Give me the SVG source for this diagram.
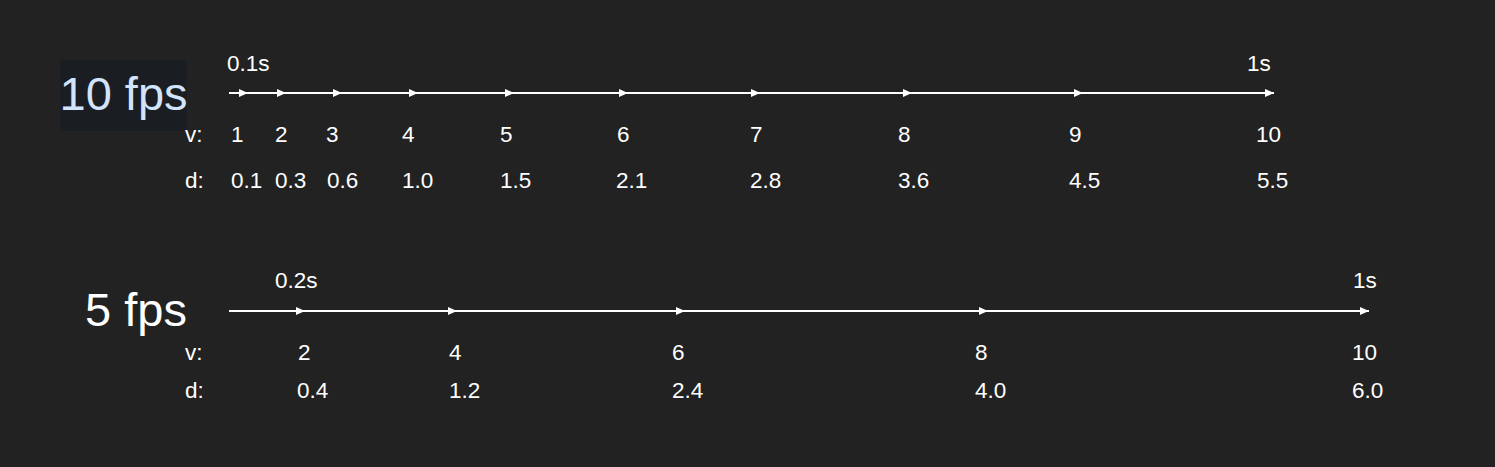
<svg xmlns="http://www.w3.org/2000/svg" width="1495" height="467" viewBox="0 0 1495 467">
<style>
text{font-family:"Liberation Sans",Arial,sans-serif;fill:#ffffff}
.t{font-size:22.5px}
.big{font-size:47px}
.hl{fill:#d2e4fb}
.ln{stroke:#ffffff;stroke-width:2;fill:none}
</style>
<defs>
<marker id="ah" viewBox="0 0 9 8" refX="9" refY="4" markerWidth="9" markerHeight="8" markerUnits="userSpaceOnUse" orient="auto">
<path d="M0,0 L9,4 L0,8 Z" fill="#ffffff"/>
</marker>
</defs>
<rect width="1495" height="467" fill="#222222"/>

<g id="title-10fps">
<rect x="60" y="60" width="127" height="71" fill="#1a1d21"/>
<text class="big hl" x="59.5" y="110">10 fps</text>
</g>
<g id="title-5fps">
<text class="big" x="85" y="326">5 fps</text>
</g>

<g id="connectors">
<line class="ln" x1="229" y1="93" x2="248" y2="93" marker-end="url(#ah)"/>
<line class="ln" x1="248" y1="93" x2="286" y2="93" marker-end="url(#ah)"/>
<line class="ln" x1="286" y1="93" x2="342" y2="93" marker-end="url(#ah)"/>
<line class="ln" x1="342" y1="93" x2="418" y2="93" marker-end="url(#ah)"/>
<line class="ln" x1="418" y1="93" x2="514" y2="93" marker-end="url(#ah)"/>
<line class="ln" x1="514" y1="93" x2="628" y2="93" marker-end="url(#ah)"/>
<line class="ln" x1="628" y1="93" x2="760" y2="93" marker-end="url(#ah)"/>
<line class="ln" x1="760" y1="93" x2="912" y2="93" marker-end="url(#ah)"/>
<line class="ln" x1="912" y1="93" x2="1083" y2="93" marker-end="url(#ah)"/>
<line class="ln" x1="1083" y1="93" x2="1274" y2="93" marker-end="url(#ah)"/>
<line class="ln" x1="229" y1="311" x2="305" y2="311" marker-end="url(#ah)"/>
<line class="ln" x1="305" y1="311" x2="457" y2="311" marker-end="url(#ah)"/>
<line class="ln" x1="457" y1="311" x2="685" y2="311" marker-end="url(#ah)"/>
<line class="ln" x1="685" y1="311" x2="988" y2="311" marker-end="url(#ah)"/>
<line class="ln" x1="988" y1="311" x2="1369" y2="311" marker-end="url(#ah)"/>
</g>

<g id="row-10fps-labels">
<text class="t" x="227" y="71">0.1s</text>
<text class="t" x="1247" y="71">1s</text>
<text class="t" x="185" y="142">v:</text>
<text class="t" x="185" y="188">d:</text>
<text class="t" x="231" y="142">1</text>
<text class="t" x="275" y="142">2</text>
<text class="t" x="326" y="142">3</text>
<text class="t" x="402" y="142">4</text>
<text class="t" x="500" y="142">5</text>
<text class="t" x="617" y="142">6</text>
<text class="t" x="750" y="142">7</text>
<text class="t" x="898" y="142">8</text>
<text class="t" x="1069" y="142">9</text>
<text class="t" x="1256" y="142">10</text>
<text class="t" x="231" y="188">0.1</text>
<text class="t" x="275" y="188">0.3</text>
<text class="t" x="327" y="188">0.6</text>
<text class="t" x="402" y="188">1.0</text>
<text class="t" x="500" y="188">1.5</text>
<text class="t" x="616" y="188">2.1</text>
<text class="t" x="750" y="188">2.8</text>
<text class="t" x="898" y="188">3.6</text>
<text class="t" x="1069" y="188">4.5</text>
<text class="t" x="1257" y="188">5.5</text>
</g>

<g id="row-5fps-labels">
<text class="t" x="275" y="288">0.2s</text>
<text class="t" x="1353" y="288">1s</text>
<text class="t" x="185" y="360">v:</text>
<text class="t" x="185" y="398">d:</text>
<text class="t" x="298" y="360">2</text>
<text class="t" x="449" y="360">4</text>
<text class="t" x="672" y="360">6</text>
<text class="t" x="975" y="360">8</text>
<text class="t" x="1352" y="360">10</text>
<text class="t" x="297" y="398">0.4</text>
<text class="t" x="449" y="398">1.2</text>
<text class="t" x="672" y="398">2.4</text>
<text class="t" x="975" y="398">4.0</text>
<text class="t" x="1352" y="398">6.0</text>
</g>
</svg>
